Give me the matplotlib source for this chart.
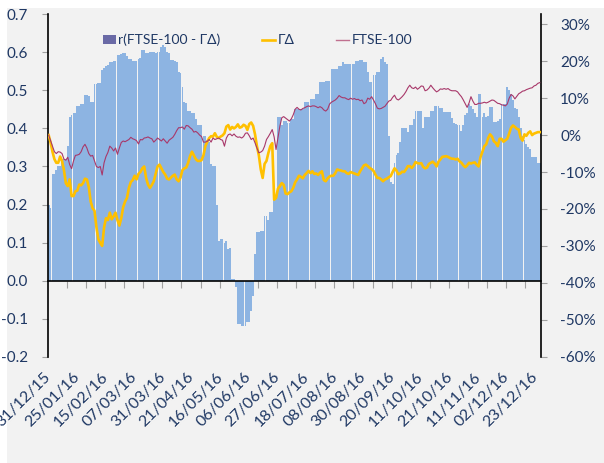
import numpy as np
import matplotlib
matplotlib.use("Agg")
import matplotlib.pyplot as plt
from matplotlib.patches import Patch, Rectangle
from matplotlib.lines import Line2D

# ---------------- data ----------------
corr = [0.20, 0.19, 0.28, 0.28, 0.29, 0.30, 0.30, 0.32, 0.32, 0.32,
        0.355, 0.43, 0.435, 0.44, 0.44, 0.46, 0.46, 0.465, 0.465, 0.487,
        0.487, 0.485, 0.47, 0.47, 0.517, 0.517, 0.52, 0.52, 0.553, 0.56,
        0.565, 0.568, 0.575, 0.575, 0.578, 0.578, 0.594, 0.594, 0.596, 0.597,
        0.597, 0.59, 0.583, 0.583, 0.578, 0.578, 0.578, 0.583, 0.585, 0.605,
        0.605, 0.597, 0.597, 0.60, 0.60, 0.602, 0.598, 0.60, 0.60, 0.615,
        0.618, 0.615, 0.60, 0.598, 0.58, 0.579, 0.578, 0.575, 0.548, 0.545,
        0.509, 0.47, 0.468, 0.447, 0.447, 0.44, 0.44, 0.425, 0.41, 0.41,
        0.41, 0.38, 0.38, 0.37, 0.365, 0.307, 0.30, 0.30, 0.20, 0.105,
        0.11, 0.11, 0.10, 0.105, 0.084, 0.085, 0.005, 0.003, -0.018, -0.114,
        -0.115, -0.12, -0.118, -0.12, -0.11, -0.11, -0.08, -0.04, 0.07, 0.127,
        0.127, 0.13, 0.13, 0.171, 0.17, 0.16, 0.18, 0.18, 0.224, 0.224,
        0.43, 0.43, 0.408, 0.42, 0.42, 0.415, 0.415, 0.425, 0.425, 0.452,
        0.452, 0.45, 0.45, 0.45, 0.469, 0.469, 0.469, 0.478, 0.478, 0.478,
        0.491, 0.491, 0.522, 0.522, 0.522, 0.525, 0.525, 0.525, 0.557, 0.557,
        0.557, 0.557, 0.565, 0.565, 0.575, 0.57, 0.57, 0.57, 0.57, 0.57,
        0.57, 0.578, 0.578, 0.58, 0.58, 0.575, 0.575, 0.548, 0.522, 0.522,
        0.54, 0.54, 0.548, 0.548, 0.583, 0.588, 0.575, 0.57, 0.38, 0.26,
        0.255, 0.31, 0.33, 0.335, 0.364, 0.40, 0.40, 0.40, 0.39, 0.41,
        0.41, 0.425, 0.445, 0.447, 0.447, 0.447, 0.40, 0.43, 0.43, 0.43,
        0.447, 0.447, 0.46, 0.46, 0.46, 0.455, 0.455, 0.443, 0.443, 0.443,
        0.443, 0.428, 0.415, 0.412, 0.41, 0.41, 0.393, 0.41, 0.434, 0.44,
        0.465, 0.46, 0.45, 0.44, 0.43, 0.491, 0.491, 0.43, 0.44, 0.43,
        0.432, 0.457, 0.457, 0.417, 0.417, 0.42, 0.425, 0.465, 0.465, 0.465,
        0.51, 0.50, 0.49, 0.475, 0.455, 0.45, 0.43, 0.40, 0.38, 0.37,
        0.36, 0.35, 0.345, 0.325, 0.325, 0.325, 0.31, 0.31]

gd = [0.0, -0.02, -0.045, -0.065, -0.075, -0.075, -0.058, -0.07, -0.095, -0.13,
      -0.138, -0.12, -0.165, -0.165, -0.152, -0.15, -0.134, -0.136, -0.13, -0.118,
      -0.12, -0.14, -0.18, -0.198, -0.205, -0.25, -0.282, -0.292, -0.30, -0.25,
      -0.225, -0.23, -0.21, -0.228, -0.22, -0.21, -0.23, -0.245, -0.225, -0.195,
      -0.18, -0.17, -0.143, -0.127, -0.122, -0.11, -0.12, -0.105, -0.10, -0.09,
      -0.085, -0.116, -0.134, -0.143, -0.135, -0.125, -0.105, -0.085, -0.08, -0.09,
      -0.10, -0.107, -0.118, -0.12, -0.115, -0.11, -0.107, -0.12, -0.125, -0.115,
      -0.095, -0.09, -0.088, -0.075, -0.057, -0.045, -0.055, -0.065, -0.07, -0.07,
      -0.068, -0.055, -0.03, -0.018, -0.008, -0.003, -0.004, 0.005, -0.005, -0.008,
      -0.004, -0.001, 0.005, 0.023, 0.027, 0.015, 0.022, 0.018, 0.022, 0.029,
      0.02, 0.022, 0.028, 0.025, 0.014, 0.03, 0.034, 0.025, 0.002, -0.03,
      -0.055, -0.093, -0.116, -0.078, -0.07, -0.048, -0.03, -0.022, -0.175, -0.17,
      -0.145, -0.138, -0.13, -0.135, -0.158, -0.16, -0.155, -0.152, -0.143, -0.128,
      -0.12, -0.11, -0.113, -0.117, -0.108, -0.103, -0.097, -0.103, -0.098, -0.105,
      -0.104, -0.108, -0.102, -0.098, -0.122, -0.125, -0.117, -0.112, -0.11, -0.11,
      -0.103, -0.093, -0.095, -0.096, -0.098, -0.098, -0.103, -0.105, -0.10, -0.102,
      -0.104, -0.106, -0.108, -0.098, -0.09, -0.082, -0.08, -0.084, -0.089, -0.092,
      -0.097, -0.107, -0.116, -0.116, -0.12, -0.125, -0.12, -0.118, -0.114, -0.111,
      -0.10, -0.09, -0.096, -0.106, -0.104, -0.099, -0.10, -0.093, -0.084, -0.084,
      -0.089, -0.083, -0.073, -0.076, -0.077, -0.076, -0.086, -0.09, -0.088, -0.078,
      -0.075, -0.072, -0.077, -0.085, -0.072, -0.066, -0.059, -0.058, -0.057, -0.059,
      -0.062, -0.064, -0.064, -0.066, -0.064, -0.071, -0.075, -0.082, -0.087, -0.082,
      -0.075, -0.077, -0.075, -0.074, -0.08, -0.085, -0.06, -0.045, -0.03, -0.025,
      -0.008, 0.002, -0.004, -0.017, -0.021, -0.03, -0.01, -0.01, -0.018, -0.014,
      -0.01, 0.004, 0.02, 0.026, 0.022, 0.017, 0.015, -0.007, -0.015, 0.002,
      -0.002, 0.006, 0.01, 0.0, 0.004, 0.006, 0.008, 0.008]

ftse = [0.0, -0.015, -0.03, -0.045, -0.05, -0.045, -0.046, -0.05, -0.065, -0.068,
        -0.06, -0.08, -0.091, -0.07, -0.055, -0.054, -0.052, -0.045, -0.032, -0.025,
        -0.035, -0.05, -0.057, -0.055, -0.07, -0.085, -0.088, -0.085, -0.108, -0.075,
        -0.058, -0.047, -0.03, -0.035, -0.043, -0.035, -0.052, -0.035, -0.02, -0.016,
        -0.018, -0.015, -0.012, -0.006, -0.01, -0.012, -0.015, -0.024, -0.012, -0.013,
        -0.008, -0.007, -0.005, -0.008, -0.01, -0.019, -0.014, -0.008, -0.012, -0.016,
        -0.01, -0.016, -0.022, -0.014, -0.01, -0.006, 0.002, 0.012, 0.02, 0.02,
        0.022, 0.016, 0.026, 0.025, 0.02, 0.016, 0.008, 0.01, 0.006, 0.0,
        -0.004, -0.019, -0.019, -0.017, -0.012, -0.019, -0.008, -0.012, -0.01, -0.008,
        -0.012, -0.014, -0.03, -0.008, 0.001, 0.003, -0.002, 0.003, -0.003, -0.006,
        -0.005, -0.008, -0.004, 0.005, 0.006, -0.002, -0.012, -0.008, -0.021, -0.035,
        -0.048, -0.046, -0.042, -0.03, -0.012, -0.004, 0.005, 0.015, -0.005, -0.039,
        -0.008, 0.024, 0.047, 0.05, 0.046, 0.042, 0.038, 0.044, 0.055, 0.07,
        0.075, 0.07, 0.068, 0.072, 0.074, 0.077, 0.079, 0.077, 0.079, 0.079,
        0.077, 0.074, 0.077, 0.074, 0.068, 0.065, 0.07, 0.084, 0.089, 0.092,
        0.095, 0.10, 0.107, 0.103, 0.101, 0.101, 0.098, 0.096, 0.10, 0.097,
        0.099, 0.096, 0.097, 0.093, 0.095, 0.085, 0.088, 0.10, 0.097, 0.104,
        0.095, 0.085, 0.073, 0.071, 0.072, 0.075, 0.078, 0.085, 0.092, 0.094,
        0.102, 0.108, 0.098, 0.095, 0.099, 0.104, 0.11, 0.118, 0.128, 0.135,
        0.128, 0.126, 0.13, 0.124, 0.128, 0.133, 0.132, 0.12, 0.122, 0.127,
        0.135, 0.128, 0.122, 0.117, 0.12, 0.125, 0.124, 0.126, 0.124, 0.126,
        0.122, 0.12, 0.12, 0.12, 0.117, 0.11, 0.104, 0.095, 0.085, 0.075,
        0.087, 0.104, 0.092, 0.083, 0.083, 0.086, 0.086, 0.087, 0.089, 0.087,
        0.089, 0.092, 0.095, 0.094, 0.09, 0.086, 0.085, 0.082, 0.081, 0.079,
        0.084, 0.10, 0.11, 0.106, 0.098, 0.105, 0.112, 0.115, 0.119, 0.12,
        0.123, 0.125, 0.127, 0.128, 0.133, 0.135, 0.14, 0.142]

date_labels = ["31/12/15", "25/01/16", "15/02/16", "07/03/16", "31/03/16",
               "21/04/16", "16/05/16", "06/06/16", "27/06/16", "18/07/16",
               "08/08/16", "30/08/16", "20/09/16", "11/10/16", "21/10/16",
               "11/11/16", "02/12/16", "23/12/16"]
label_step = 15
minor_step = 10

left_ticks = [0.7, 0.6, 0.5, 0.4, 0.3, 0.2, 0.1, 0.0, -0.1, -0.2]
right_ticks = [0.3, 0.2, 0.1, 0.0, -0.1, -0.2, -0.3, -0.4, -0.5, -0.6]

# ---------------- style ----------------
TXT = "#1F3864"
BAR = "#8DB4E2"
YEL = "#FFC000"
PUR = "#A8386A"
FONT = ["Lato", "DejaVu Sans"]
plt.rcParams["font.family"] = FONT

W, H = 604, 463
fig = plt.figure(figsize=(W / 100, H / 100), dpi=100, facecolor="white")
fig.patches.append(Rectangle((7 / W, 0), 1, 1 - 8 / H, transform=fig.transFigure,
                             facecolor="#F2F2F2", edgecolor="none", zorder=-10))

x0, x1 = 47.7, 540.7
ytop, ybot = 14.3, 356.7
ax = fig.add_axes([x0 / W, 1 - ybot / H, (x1 - x0) / W, (ybot - ytop) / H])
ax.set_facecolor("none")

n = len(corr)
x = np.arange(n)
ax.bar(x, corr, width=0.95, color=BAR, linewidth=0, zorder=2)
ax.set_xlim(-0.5, n - 0.5)
ax.set_ylim(-0.2, 0.7)

ax2 = ax.twinx()
ax2.plot(x, gd, color=YEL, lw=1.9, zorder=3, solid_joinstyle="round")
ax2.plot(x, ftse, color=PUR, lw=0.8, zorder=4)
ax2.set_ylim(-0.6, 0.327)

# left axis
ax.set_yticks(left_ticks)
ax.set_yticklabels([f"{v:.1f}" for v in left_ticks])
ax.tick_params(axis="y", direction="out", length=4, width=0.8, color="#A0A0A0",
               labelcolor=TXT, labelsize=11, pad=10)
for s in ["top", "right"]:
    ax.spines[s].set_visible(False)
ax.spines["left"].set_color("black")
ax.spines["left"].set_linewidth(1.2)
ax.spines["bottom"].set_position(("data", 0))
ax.spines["bottom"].set_color("black")
ax.spines["bottom"].set_linewidth(1.2)
ax.set_xticks([])
ax.set_xticks(np.arange(minor_step, n, minor_step) - 0.5, minor=True)
ax.tick_params(axis="x", which="minor", direction="out", length=5, width=0.8,
               color="#A0A0A0", labelbottom=False)

# right axis
ax2.set_yticks(right_ticks)
ax2.set_yticklabels([f"{round(v * 100)}%" for v in right_ticks])
ax2.tick_params(axis="y", direction="out", length=4, width=0.8, color="#A0A0A0",
                labelcolor=TXT, labelsize=11, pad=10)
for s in ["top", "left", "bottom"]:
    ax2.spines[s].set_visible(False)
ax2.spines["right"].set_color("black")
ax2.spines["right"].set_linewidth(1.2)

# date labels at the bottom of the plot area
sec = ax.secondary_xaxis(0.0)
sec.set_xticks(np.arange(len(date_labels)) * label_step)
sec.set_xticklabels(date_labels, rotation=45, ha="right", va="center",
                    rotation_mode="anchor")
sec.tick_params(axis="x", length=0, pad=13, labelsize=11.5, labelcolor=TXT)
sec.spines["bottom"].set_visible(False)

# legend
handles = [Patch(facecolor="#6A6AA6", edgecolor="none"),
           Line2D([], [], color=YEL, lw=1.9),
           Line2D([], [], color="#C0708F", lw=1.0)]
labels = ["r(FTSE-100 - ΓΔ)", "ΓΔ", "FTSE-100"]
leg = fig.legend(handles, labels, loc="center left",
                 bbox_to_anchor=(103 / W, 1 - 40 / H), ncol=3, frameon=False,
                 fontsize=10, labelcolor=TXT, handlelength=0.95, handleheight=0.6,
                 handletextpad=0.15, columnspacing=3.0, borderpad=0, borderaxespad=0)

fig.savefig("out.png", dpi=100, facecolor=fig.get_facecolor())
